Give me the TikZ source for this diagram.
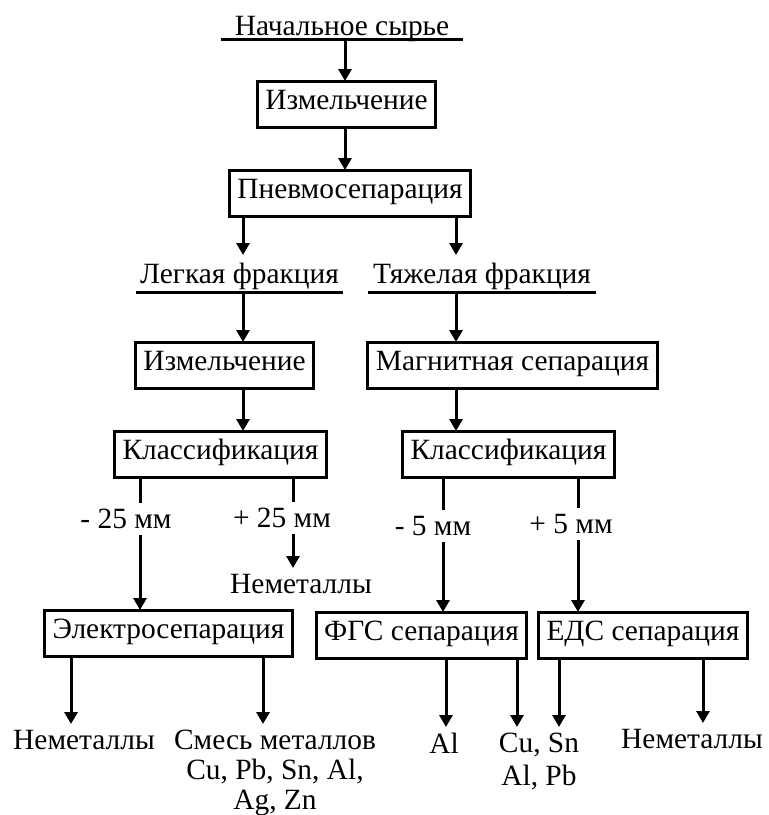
\documentclass[tikz,border=0pt]{standalone}
\usepackage{fontspec}
\setmainfont{Liberation Serif}
\usepackage{tikz}
\usetikzlibrary{arrows.meta}

\begin{document}
\begin{tikzpicture}[x=0.5pt,y=-0.5pt,line width=1.5pt,
	every node/.style={inner sep=2pt,outer sep=0pt,font=\fontsize{14.7}{15}\selectfont},
	box/.style={draw,inner xsep=4pt,inner ysep=4pt,text height=10pt,text depth=5pt},
	frac/.style={inner sep=0pt,text height=14pt,text depth=4.5pt,anchor=south},
	lbl/.style={fill=white,inner xsep=1pt,inner ysep=2pt,text height=10.5pt,text depth=1.5pt,anchor=base},
	res/.style={align=center,inner sep=3pt,anchor=north},
	>={Triangle[width=6.5pt,length=6pt]}]
	\useasboundingbox (0,0) rectangle (768,815);
	\node (start) [frac,text depth=2pt,minimum width=121pt] at (342,39) {Начальное сырье};
	\node (izm1) [box] at (346.5,104) {Измельчение};
	\node (pnev) [box] at (350,193) {Пневмосепарация};
	\node (legk) [frac,minimum width=103.5pt] at (239.5,292) {Легкая фракция};
	\node (tyazh) [frac,minimum width=114pt] at (482,292) {Тяжелая фракция};
	\node (izm2) [box] at (224.5,365) {Измельчение};
	\node (magn) [box] at (512.5,365) {Магнитная сепарация};
	\node (klass1) [box] at (220.5,454) {Классификация};
	\node (klass2) [box] at (508.5,454) {Классификация};
	\node (nem0) [res] at (301,568) {Неметаллы};
	\node (elek) [box] at (168.5,633) {Электросепарация};
	\node (fgs) [box] at (421.5,635) {ФГС сепарация};
	\node (eds) [box] at (643,635) {ЕДС сепарация};
	\node (nem1) [res] at (84,724) {Неметаллы};
	\node (mix) [res] at (275,724) {Смесь металлов\\Cu, Pb, Sn, Al,\\Ag, Zn};
	\node (al) [res] at (444,727) {Al};
	\node (cusn) [res] at (539,727) {Cu, Sn\\[1.5pt]Al, Pb};
	\node (nem2) [res] at (692,723) {Неметаллы};
	\coordinate (cM) at (345,0);
	\coordinate (cL) at (243,0);
	\coordinate (cR) at (456,0);
	\coordinate (k1a) at (140,0);
	\coordinate (k1b) at (293,0);
	\coordinate (k2a) at (443,0);
	\coordinate (k2b) at (578,0);
	\coordinate (e1) at (71,0);
	\coordinate (e2) at (263,0);
	\coordinate (f1) at (446,0);
	\coordinate (f2) at (517,0);
	\coordinate (d1) at (559,0);
	\coordinate (d2) at (703,0);
	\draw (start.south west) -- (start.south east);
	\draw (legk.south west) -- (legk.south east);
	\draw (tyazh.south west) -- (tyazh.south east);
	\path[->]
		(start.south -| cM) edge (izm1.north -| cM)
		(izm1.south -| cM) edge (pnev.north -| cM)
		(pnev.south -| cL) edge (legk.north -| cL)
		(pnev.south -| cR) edge (tyazh.north -| cR)
		(legk.south -| cL) edge (izm2.north -| cL)
		(tyazh.south -| cR) edge (magn.north -| cR)
		(izm2.south -| cL) edge (klass1.north -| cL)
		(magn.south -| cR) edge (klass2.north -| cR)
		(klass1.south -| k1a) edge (elek.north -| k1a)
		(klass1.south -| k1b) edge (nem0.north -| k1b)
		(klass2.south -| k2a) edge (fgs.north -| k2a)
		(klass2.south -| k2b) edge (eds.north -| k2b)
		(elek.south -| e1) edge (nem1.north -| e1)
		(elek.south -| e2) edge (mix.north -| e2)
		(fgs.south -| f1) edge (al.north -| f1)
		(fgs.south -| f2) edge (cusn.north -| f2)
		(eds.south -| d1) edge (cusn.north -| d1)
		(eds.south -| d2) edge (nem2.north -| d2);
	\node (m25) [lbl] at (126,528) {- 25 мм};
	\node (p25) [lbl] at (282,527) {+ 25 мм};
	\node (m5) [lbl] at (433,535) {- 5 мм};
	\node (p5) [lbl] at (571,533) {+ 5 мм};
\end{tikzpicture}
\end{document}
